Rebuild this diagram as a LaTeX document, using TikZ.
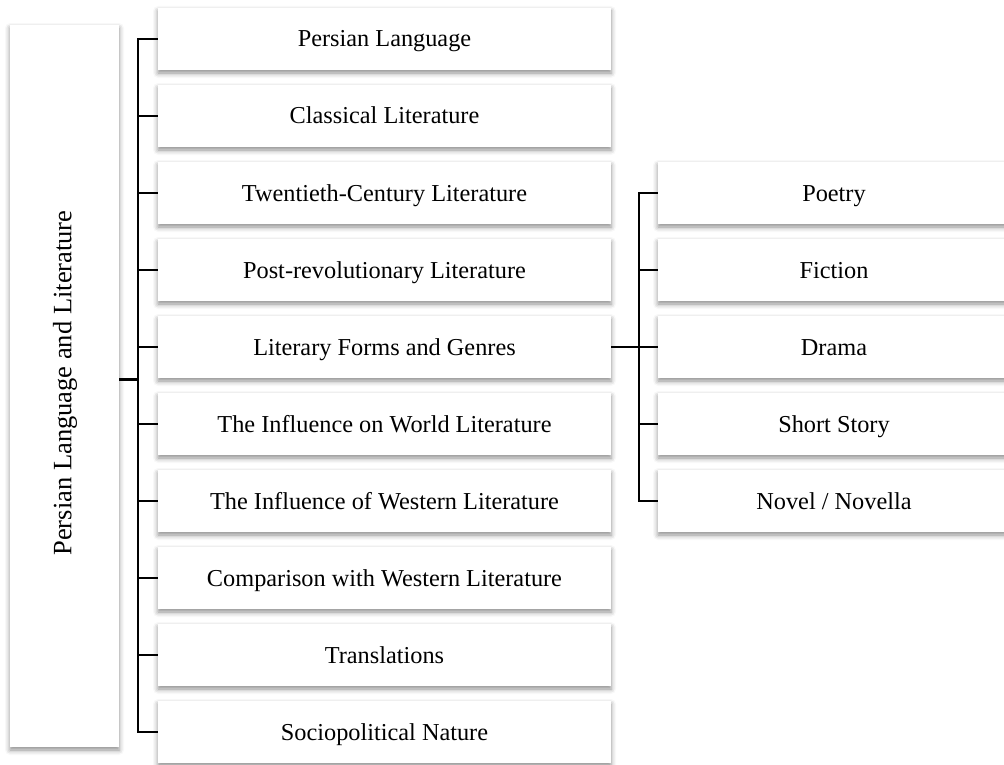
\documentclass[tikz,border=0pt]{standalone}
\usepackage{fontspec}
\setmainfont{Liberation Serif}
\usetikzlibrary{shadows.blur}
\begin{document}
\begin{tikzpicture}[x=1pt,y=-1pt,
  card/.style={draw=none,fill=white,rectangle,inner sep=0pt,
    blur shadow={shadow xshift=0pt,shadow yshift=-3pt,shadow blur radius=5pt,shadow opacity=45},
    font=\fontsize{24.3}{27}\selectfont,text height=16pt,text depth=0pt},
  midcard/.style={card,minimum width=453pt,minimum height=62pt},
  subcard/.style={card,minimum width=352pt,minimum height=62pt},
  link/.style={line width=1.3pt,line cap=rect},
  spine/.style={line width=1.8pt}]
\useasboundingbox (0,0) rectangle (1004,765);

% root card, text reads bottom to top
\node[card,minimum width=109pt,minimum height=722pt] (root) at (64.5,386) {};
\node[font=\fontsize{26.5}{29}\selectfont,rotate=90,inner sep=0pt,text height=17.5pt,text depth=0pt] (roottext) at (62.5,383) {Persian Language and Literature};

% first level
\foreach \n/\t [count=\i from 0] in {
  a/{Persian Language},
  b/{Classical Literature},
  c/{Twentieth-Century Literature},
  d/{Post-revolutionary Literature},
  e/{Literary Forms and Genres},
  f/{The Influence on World Literature},
  g/{The Influence of Western Literature},
  h/{Comparison with Western Literature},
  i/{Translations},
  j/{Sociopolitical Nature}}
  \node[midcard] (\n) at (384.5,39+77*\i) {\t};

% second level
\foreach \n/\t [count=\i from 0] in {
  p/{Poetry}, q/{Fiction}, r/{Drama}, s/{Short Story}, t/{Novel / Novella}}
  \node[subcard] (\n) at (834,193+77*\i) {\t};

% first-level bracket
\coordinate (ls) at (138,0);
\draw[spine] (a.west) -| (ls |- j.west) -- (j.west);
\foreach \n in {b,c,d,e,f,g,h,i}
  \draw[link] (ls |- \n.west) -- (\n.west);
\draw[line width=2.6pt] (root.east |- e.south) ++(0,1) coordinate (rj) -- (ls |- rj);

% second-level bracket
\coordinate (rs) at (639,0);
\draw[spine] (p.west) -| (rs |- t.west) -- (t.west);
\foreach \n in {q,s}
  \draw[link] (rs |- \n.west) -- (\n.west);
\draw[spine] (e.east) -- (r.west);
\end{tikzpicture}
\end{document}
